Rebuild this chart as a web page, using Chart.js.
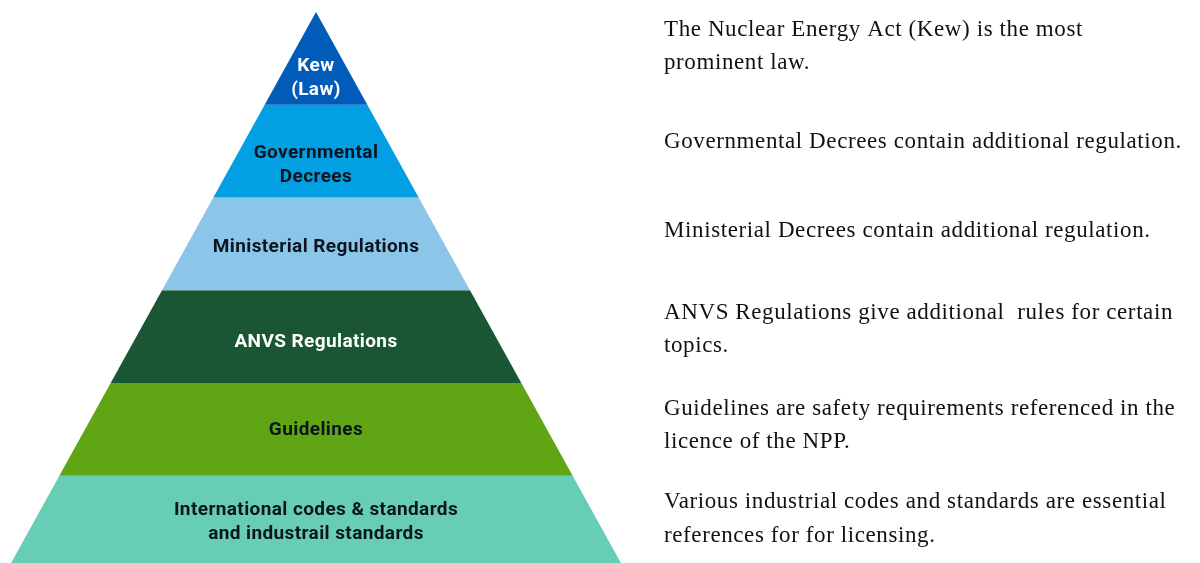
<!DOCTYPE html>
<html>
<head>
<meta charset="utf-8">
<script src="https://cdn.jsdelivr.net/npm/chart.js@4"></script>
<style>
  html, body { margin: 0; padding: 0; background: #ffffff; }
  #wrap { width: 1200px; height: 563px; position: relative; }
</style>
</head>
<body>
<div id="wrap"><canvas id="c" width="1200" height="563"></canvas></div>
<script>
// ---- data ----
const levels = ['Kew (Law)', 'Governmental Decrees', 'Ministerial Regulations', 'ANVS Regulations', 'Guidelines', 'International codes & standards and industrail standards'];
const levelLabelLines = [
  ['Kew', '(Law)'],
  ['Governmental', 'Decrees'],
  ['Ministerial Regulations'],
  ['ANVS Regulations'],
  ['Guidelines'],
  ['International codes & standards', 'and industrail standards']
];
const descriptionLines = [
  ['The Nuclear Energy Act (Kew) is the most', 'prominent law.'],
  ['Governmental Decrees contain additional regulation.'],
  ['Ministerial Decrees contain additional regulation.'],
  ['ANVS Regulations give additional  rules for certain', 'topics.'],
  ['Guidelines are safety requirements referenced in the', 'licence of the NPP.'],
  ['Various industrial codes and standards are essential', 'references for for licensing.']
];
const levelColors = ['#015cb9', '#02a0e2', '#8bc6e8', '#1b5634', '#5fa514', '#67cdb4'];
const labelColors = ['#ffffff', '#0b1420', '#0b1420', '#ffffff', '#0b1420', '#0b1420'];

// ---- geometry derived from level index (pyramid: half-width grows linearly with depth) ----
const nLevels = levels.length;
function trapezoid(i) {
  const t = i, b = i + 1;
  return [
    { x: -t / nLevels, y: t },
    { x: t / nLevels, y: t },
    { x: b / nLevels, y: b },
    { x: -b / nLevels, y: b },
    { x: -t / nLevels, y: t }
  ];
}

const datasets = levels.map((name, i) => ({
  label: name,
  data: trapezoid(i),
  backgroundColor: levelColors[i],
  borderColor: levelColors[i],
  borderWidth: 0,
  pointRadius: 0,
  fill: 'shape',
  tension: 0
}));

const textPlugin = {
  id: 'pyramidText',
  afterDatasetsDraw(chart) {
    const ctx = chart.ctx;
    const xs = chart.scales.x, ys = chart.scales.y;
    const cx = xs.getPixelForValue(0);
    ctx.save();
    ctx.textBaseline = 'middle';
    // labels inside the pyramid
    ctx.textAlign = 'center';
    ctx.font = '700 19px Roboto, "Noto Sans", sans-serif';
    ctx.letterSpacing = '0.4px';
    const labelOffsets = [20, 14, 3, 6, 1, 0];
    levelLabelLines.forEach((lines, i) => {
      const cy = (ys.getPixelForValue(i) + ys.getPixelForValue(i + 1)) / 2 + labelOffsets[i];
      const lh = 24;
      ctx.fillStyle = labelColors[i];
      lines.forEach((ln, k) => {
        ctx.fillText(ln, cx, cy + (k - (lines.length - 1) / 2) * lh);
      });
    });
    // descriptions on the right
    ctx.textAlign = 'left';
    ctx.font = '23px "Liberation Serif", "DejaVu Serif", serif';
    ctx.letterSpacing = '0.6px';
    ctx.fillStyle = '#111111';
    const descX = 664;
    const descOffsets = [-12, -9, -13, -7, -4, -3];
    descriptionLines.forEach((lines, i) => {
      const cy = (ys.getPixelForValue(i) + ys.getPixelForValue(i + 1)) / 2 + descOffsets[i];
      const lh = 33.5;
      lines.forEach((ln, k) => {
        ctx.fillText(ln, descX, cy + (k - (lines.length - 1) / 2) * lh);
      });
    });
    ctx.restore();
  }
};

new Chart(document.getElementById('c'), {
  type: 'line',
  data: { datasets },
  options: {
    responsive: false,
    animation: false,
    layout: { padding: { left: 8, right: 576, top: 12, bottom: 0 } },
    plugins: { legend: { display: false }, tooltip: { enabled: false } },
    scales: {
      x: { type: 'linear', min: -1, max: 1, display: false },
      // the base of the pyramid is cut by the bottom edge of the picture
      y: { type: 'linear', min: 0, max: nLevels * 0.99, reverse: true, display: false }
    }
  },
  plugins: [textPlugin]
});
</script>
</body>
</html>
